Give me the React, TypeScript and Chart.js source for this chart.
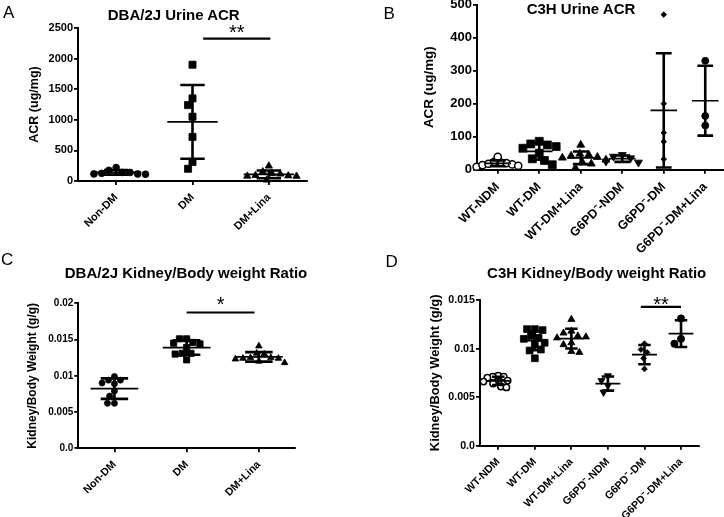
import React, { useEffect, useRef } from "react";
import { Chart, registerables } from "chart.js";

Chart.register(...registerables);

const FONT = "'Liberation Sans', Arial, Helvetica, sans-serif";

// ---------------- Panel A: DBA/2J Urine ACR ----------------
const aCategories = ["Non-DM", "DM", "DM+Lina"];
const aNonDM = [175, 140, 115, 110, 115, 125, 140, 220];
const aDM = [1900, 1350, 1240, 1050, 720, 310, 200];
const aDMLina = [245, 152, 120, 114, 90, 85, 80, 78, 16];
const aYTicks = [0, 500, 1000, 1500, 2000, 2500];
const aYTickLabels = ["0", "500", "1000", "1500", "2000", "2500"];
const aSig = { from: 1.14, to: 2.02, y: 2325, label: "**" };

// ---------------- Panel B: C3H Urine ACR ----------------
const bCategories = ["WT-NDM", "WT-DM", "WT-DM+Lina", "G6PD\u207B-NDM", "G6PD\u207B-DM", "G6PD\u207B-DM+Lina"];
const bWTNDM = [9, 14, 18, 20, 22, 24, 16, 39, 12];
const bWTDM = [86, 78, 75, 70, 65, 50, 33, 28, 15];
const bWTDMLina = [75, 45, 42, 48, 38, 36, 30, 22, 18, 5];
const bG6NDM = [45, 40, 35, 25, 22];
const bG6DM = [470, 200, 112, 85, 32];
const bG6DMLina = [330, 163, 134];
const bYTicks = [0, 100, 200, 300, 400, 500];
const bYTickLabels = ["0", "100", "200", "300", "400", "500"];

// ---------------- Panel C: DBA/2J Kidney/Body weight Ratio ----------------
const cCategories = ["Non-DM", "DM", "DM+Lina"];
const cNonDM = [0.0094, 0.0099, 0.0094, 0.009, 0.0089, 0.0079, 0.0072, 0.0062, 0.0062];
const cDM = [0.0151, 0.0151, 0.0146, 0.0144, 0.0145, 0.0139, 0.0131, 0.0131, 0.013, 0.0122];
const cDMLina = [0.0141, 0.0131, 0.013, 0.0125, 0.0125, 0.0124, 0.0124, 0.0123, 0.012, 0.0118];
const cYTicks = [0, 0.005, 0.01, 0.015, 0.02];
const cYTickLabels = ["0.0", "0.005", "0.01", "0.015", "0.02"];
const cSig = { from: 1.0, to: 1.94, y: 0.01873, label: "*" };

// ---------------- Panel D: C3H Kidney/Body weight Ratio ----------------
const dCategories = bCategories;
const dWTNDM = [0.0072, 0.0071, 0.0071, 0.007, 0.0067, 0.0066, 0.0066, 0.0064, 0.0061, 0.006];
const dWTDM = [0.012, 0.012, 0.0119, 0.0113, 0.0111, 0.011, 0.0106, 0.0104, 0.0099, 0.0098, 0.009];
const dWTDMLina = [0.013, 0.0118, 0.0116, 0.0113, 0.0112, 0.0111, 0.0106, 0.0104, 0.0097, 0.0096];
const dG6NDM = [0.0072, 0.0067, 0.0062, 0.0055];
const dG6DM = [0.0105, 0.0099, 0.0096, 0.009, 0.0079];
const dG6DMLina = [0.0131, 0.011, 0.0105];
const dYTicks = [0, 0.005, 0.01, 0.015];
const dYTickLabels = ["0.0", "0.005", "0.01", "0.015"];
const dSig = { from: 3.9, to: 5.0, y: 0.0143, label: "**" };

// ---------------- helpers ----------------
type Marker = { style: string; r: number; rot?: number; open?: boolean };
type Group = { values: number[]; m: Marker };
type Sig = { from: number; to: number; y: number; label: string };
type PanelCfg = {
  id: string;
  cv: { L: number; T: number; W: number; H: number };
  area: { l: number; t: number; r: number; b: number };
  cats: string[];
  groups: Group[];
  yMin: number;
  yMax: number;
  yTicks: number[];
  yTickLabels: string[];
  yTitle: string;
  yTitleSize: number;
  yTitleX: number;
  yTickSize: number;
  xTickSize: number;
  meanHalf: number;
  capHalf: number;
  sig?: Sig;
  starGap?: number;
};

const mean = (a: number[]) => a.reduce((s, v) => s + v, 0) / a.length;
const sd = (a: number[]) => {
  const m = mean(a);
  return Math.sqrt(a.reduce((s, v) => s + (v - m) * (v - m), 0) / (a.length - 1));
};

function swarmSpacing(m: Marker) {
  if (m.open) return (2 * m.r + 1.5) * 0.7;
  if (m.style === "rect") return 1.414 * m.r + 1;
  if (m.style === "triangle") return 1.73 * m.r + 1;
  return 2 * m.r + 1;
}

// simple beeswarm: returns x offsets (category units) so markers do not pile up
function swarm(values: number[], pxPerY: number, pxPerX: number, diam: number): number[] {
  const order = values.map((_, i) => i).sort((a, b) => values[b] - values[a]);
  const placed: { x: number; y: number }[] = [];
  const out = new Array(values.length).fill(0);
  for (const i of order) {
    const y = values[i] * pxPerY;
    const blocks: [number, number][] = [];
    for (const p of placed) {
      const dy = Math.abs(p.y - y);
      if (dy < diam) {
        const dx = Math.sqrt(diam * diam - dy * dy);
        blocks.push([p.x - dx, p.x + dx]);
      }
    }
    const cands = [0];
    blocks.forEach(([a, b]) => cands.push(a, b));
    cands.sort((a, b) => Math.abs(a) - Math.abs(b));
    let x = 0;
    for (const c of cands) {
      if (blocks.every(([a, b]) => c <= a + 1e-6 || c >= b - 1e-6)) {
        x = c;
        break;
      }
    }
    placed.push({ x, y });
    out[i] = x / pxPerX;
  }
  return out;
}

const starsPlugin = {
  id: "stars",
  afterDatasetsDraw(chart: any, _args: any, opts: any) {
    const sig: Sig | undefined = opts && opts.sig;
    if (!sig) return;
    const { x, y } = chart.scales;
    const ctx = chart.ctx;
    const fs = 20;
    ctx.save();
    ctx.fillStyle = "#000";
    ctx.font = `${fs}px ${FONT}`;
    ctx.textAlign = "center";
    ctx.textBaseline = "alphabetic";
    const px = x.getPixelForValue((sig.from + sig.to) / 2);
    const py = y.getPixelForValue(sig.y) - opts.gap + 0.57 * fs;
    ctx.fillText(sig.label, px, py);
    ctx.restore();
  },
};

const panels: PanelCfg[] = [
  {
    id: "A",
    cv: { L: 0, T: 0, W: 362, H: 250 },
    area: { l: 78, t: 28, r: 307, b: 181 },
    cats: aCategories,
    groups: [
      { values: aNonDM, m: { style: "circle", r: 3.4 } },
      { values: aDM, m: { style: "rect", r: 5 } },
      { values: aDMLina, m: { style: "triangle", r: 4.2 } },
    ],
    yMin: 0,
    yMax: 2500,
    yTicks: aYTicks,
    yTickLabels: aYTickLabels,
    yTitle: "ACR (ug/mg)",
    yTitleSize: 12.5,
    yTitleX: 35,
    yTickSize: 11,
    xTickSize: 11,
    meanHalf: 0.33,
    capHalf: 0.16,
    sig: aSig,
    starGap: 11,
  },
  {
    id: "B",
    cv: { L: 362, T: -10, W: 378, H: 280 },
    area: { l: 477, t: 4.7, r: 726, b: 169.7 },
    cats: bCategories,
    groups: [
      { values: bWTNDM, m: { style: "circle", r: 3.6, open: true } },
      { values: bWTDM, m: { style: "rect", r: 5.6 } },
      { values: bWTDMLina, m: { style: "triangle", r: 4.6 } },
      { values: bG6NDM, m: { style: "triangle", r: 4.6, rot: 180 } },
      { values: bG6DM, m: { style: "rectRot", r: 2.8 } },
      { values: bG6DMLina, m: { style: "circle", r: 3.5 } },
    ],
    yMin: 0,
    yMax: 500,
    yTicks: bYTicks,
    yTickLabels: bYTickLabels,
    yTitle: "ACR (ug/mg)",
    yTitleSize: 13.4,
    yTitleX: 429,
    yTickSize: 13,
    xTickSize: 12.5,
    meanHalf: 0.32,
    capHalf: 0.19,
  },
  {
    id: "C",
    cv: { L: 0, T: 250, W: 362, H: 267 },
    area: { l: 78.3, t: 303.3, r: 295, b: 448.3 },
    cats: cCategories,
    groups: [
      { values: cNonDM, m: { style: "circle", r: 3 } },
      { values: cDM, m: { style: "rect", r: 4.4 } },
      { values: cDMLina, m: { style: "triangle", r: 3.8 } },
    ],
    yMin: 0,
    yMax: 0.02,
    yTicks: cYTicks,
    yTickLabels: cYTickLabels,
    yTitle: "Kidney/Body Weight (g/g)",
    yTitleSize: 12,
    yTitleX: 33,
    yTickSize: 10,
    xTickSize: 10.7,
    meanHalf: 0.33,
    capHalf: 0.19,
    sig: cSig,
    starGap: 12.7,
  },
  {
    id: "D",
    cv: { L: 362, T: 250, W: 362, H: 267 },
    area: { l: 480, t: 300, r: 699.3, b: 445.7 },
    cats: dCategories,
    groups: [
      { values: dWTNDM, m: { style: "circle", r: 3.2, open: true } },
      { values: dWTDM, m: { style: "rect", r: 4.8 } },
      { values: dWTDMLina, m: { style: "triangle", r: 4.1 } },
      { values: dG6NDM, m: { style: "triangle", r: 4.1, rot: 180 } },
      { values: dG6DM, m: { style: "rectRot", r: 2.9 } },
      { values: dG6DMLina, m: { style: "circle", r: 3.6 } },
    ],
    yMin: 0,
    yMax: 0.015,
    yTicks: dYTicks,
    yTickLabels: dYTickLabels,
    yTitle: "Kidney/Body Weight (g/g)",
    yTitleSize: 12.9,
    yTitleX: 435.3,
    yTickSize: 10.7,
    xTickSize: 10.7,
    meanHalf: 0.34,
    capHalf: 0.17,
    sig: dSig,
    starGap: 7.5,
  },
];

function Panel({ cfg }: { cfg: PanelCfg }) {
  const ref = useRef<HTMLCanvasElement | null>(null);
  useEffect(() => {
    const canvas = ref.current;
    if (!canvas) return;
    const { cv, area, cats, groups } = cfg;
    const n = cats.length;
    const pxPerY = (area.b - area.t) / (cfg.yMax - cfg.yMin);
    const pxPerX = (area.r - area.l) / n;

    const meanPts: any[] = [];
    const sdPts: any[] = [];
    const pointSets: any[] = [];
    groups.forEach((g, i) => {
      const offs = swarm(g.values, pxPerY, pxPerX, swarmSpacing(g.m));
      pointSets.push({
        type: "scatter",
        data: g.values.map((v, j) => ({ x: i + offs[j], y: v })),
        pointStyle: g.m.style,
        pointRadius: g.m.r,
        pointRotation: g.m.rot || 0,
        backgroundColor: g.m.open ? "#ffffff" : "#000000",
        borderColor: "#000000",
        borderWidth: g.m.open ? 1.5 : 0.8,
        clip: false,
      });
      const m = mean(g.values);
      const s = sd(g.values);
      meanPts.push({ x: i - cfg.meanHalf, y: m }, { x: i + cfg.meanHalf, y: m }, { x: i, y: null });
      sdPts.push(
        { x: i, y: m + s }, { x: i, y: m - s }, { x: i, y: null },
        { x: i - cfg.capHalf, y: m + s }, { x: i + cfg.capHalf, y: m + s }, { x: i, y: null },
        { x: i - cfg.capHalf, y: m - s }, { x: i + cfg.capHalf, y: m - s }, { x: i, y: null }
      );
    });

    const lineBase = {
      type: "line",
      showLine: true,
      pointRadius: 0,
      borderColor: "#000000",
      backgroundColor: "#000000",
      fill: false,
      spanGaps: false,
      tension: 0,
      clip: false,
    };
    const datasets: any[] = [
      { ...lineBase, data: meanPts, borderWidth: 1.7 },
      { ...lineBase, data: sdPts, borderWidth: 2.6 },
    ];
    if (cfg.sig) {
      datasets.push({
        ...lineBase,
        data: [{ x: cfg.sig.from, y: cfg.sig.y }, { x: cfg.sig.to, y: cfg.sig.y }],
        borderWidth: 2.2,
      });
    }
    datasets.push(...pointSets);

    const gridOpts = { drawOnChartArea: false, drawTicks: true, tickLength: 4, color: "#000", tickColor: "#000", lineWidth: 1.8 };
    const borderOpts = { display: true, color: "#000", width: 2 };

    const chart = new Chart(canvas, {
      type: "scatter",
      data: { datasets },
      plugins: [starsPlugin],
      options: {
        responsive: false,
        animation: false,
        devicePixelRatio: 1,
        events: [],
        layout: {
          padding: { left: 0, top: area.t - cv.T, right: cv.L + cv.W - area.r, bottom: 0 },
        },
        plugins: {
          legend: { display: false },
          tooltip: { enabled: false },
          title: { display: false },
          stars: { sig: cfg.sig, gap: cfg.starGap || 10 },
        } as any,
        scales: {
          x: {
            type: "linear",
            min: -0.5,
            max: n - 0.5,
            afterBuildTicks: (s: any) => {
              s.ticks = cats.map((_, i) => ({ value: i }));
            },
            afterFit: (s: any) => {
              s.height = cv.T + cv.H - area.b;
            },
            ticks: {
              autoSkip: false,
              minRotation: 45,
              maxRotation: 45,
              padding: 6,
              color: "#000",
              font: { family: FONT, size: cfg.xTickSize, weight: "bold" },
              callback: (v: any) => cats[Math.round(Number(v))] ?? "",
            },
            grid: gridOpts,
            border: borderOpts,
          },
          y: {
            type: "linear",
            min: cfg.yMin,
            max: cfg.yMax,
            afterBuildTicks: (s: any) => {
              s.ticks = cfg.yTicks.map((v) => ({ value: v }));
            },
            afterFit: (s: any) => {
              s.width = area.l - cv.L;
            },
            ticks: {
              padding: 1,
              color: "#000",
              font: { family: FONT, size: cfg.yTickSize, weight: "bold" },
              callback: (_v: any, i: number) => cfg.yTickLabels[i],
            },
            grid: gridOpts,
            border: borderOpts,
            title: {
              display: true,
              text: cfg.yTitle,
              color: "#000",
              font: { family: FONT, size: cfg.yTitleSize, weight: "bold", lineHeight: 1.2 },
              padding: { top: cfg.yTitleX - cv.L - (cfg.yTitleSize * 1.2) / 2, bottom: 0 },
            },
          },
        } as any,
      },
    } as any);
    return () => chart.destroy();
  }, [cfg]);

  return (
    <canvas
      ref={ref}
      width={cfg.cv.W}
      height={cfg.cv.H}
      style={{ position: "absolute", left: cfg.cv.L, top: cfg.cv.T, width: cfg.cv.W, height: cfg.cv.H }}
    />
  );
}

const panelLetters = [
  { t: "A", x: 3, y: 3.8 },
  { t: "B", x: 383.5, y: 5.1 },
  { t: "C", x: 1, y: 251.1 },
  { t: "D", x: 385.5, y: 252.8 },
];
const panelTitles = [
  { t: "DBA/2J Urine ACR", cx: 173.7, y: 6.6 },
  { t: "C3H Urine ACR", cx: 581, y: 0.6 },
  { t: "DBA/2J Kidney/Body weight Ratio", cx: 186, y: 264.6 },
  { t: "C3H Kidney/Body weight Ratio", cx: 596.7, y: 264.6 },
];

export default function App() {
  return (
    <div
      style={{
        position: "absolute",
        left: 0,
        top: 0,
        width: 724,
        height: 517,
        overflow: "hidden",
        background: "#ffffff",
        fontFamily: FONT,
        color: "#000",
      }}
    >
      {panels.map((p) => (
        <Panel key={p.id} cfg={p} />
      ))}
      {panelLetters.map((l) => (
        <div
          key={l.t}
          style={{ position: "absolute", left: l.x, top: l.y, fontSize: 17, lineHeight: "17px", fontWeight: "normal", whiteSpace: "nowrap" }}
        >
          {l.t}
        </div>
      ))}
      {panelTitles.map((t) => (
        <div
          key={t.t}
          style={{
            position: "absolute",
            left: t.cx - 200,
            width: 400,
            top: t.y,
            textAlign: "center",
            fontSize: 15,
            lineHeight: "15px",
            fontWeight: "bold",
            whiteSpace: "nowrap",
          }}
        >
          {t.t}
        </div>
      ))}
    </div>
  );
}
